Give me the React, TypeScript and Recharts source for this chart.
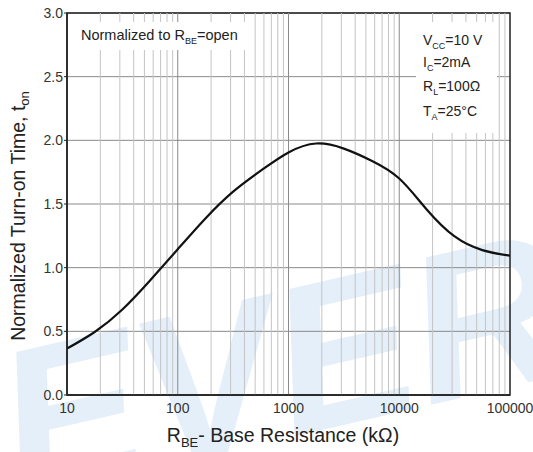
import {
  LineChart,
  Line,
  XAxis,
  YAxis,
  CartesianGrid,
  ReferenceLine,
  ReferenceArea,
} from "recharts";

const FONT = "'Liberation Sans', Arial, sans-serif";

// R_BE in kOhm (quarter-decade steps) and normalized t_on
const RBE_K = [
  10, 17.78, 31.62, 56.23, 100, 177.8, 316.2, 562.3, 1000, 1778, 3162, 5623,
  10000, 17783, 31623, 56234, 100000,
];
const TON_NORM = [
  0.365, 0.495, 0.672, 0.9, 1.145, 1.387, 1.597, 1.762, 1.905, 1.975, 1.935,
  1.84, 1.7, 1.455, 1.245, 1.138, 1.094,
];

const X_DECADES = [10, 100, 1000, 10000, 100000];
const X_MINORS = [
  20, 30, 40, 50, 60, 70, 80, 90, 200, 300, 400, 500, 600, 700, 800, 900, 2000,
  3000, 4000, 5000, 6000, 7000, 8000, 9000, 20000, 30000, 40000, 50000, 60000,
  70000, 80000, 90000,
];
const Y_TICKS = [0, 0.5, 1.0, 1.5, 2.0, 2.5, 3.0];

const data = RBE_K.map((r, i) => ({ r, t: TON_NORM[i] }));

const tickStyle = { fontSize: 14, fill: "#333", fontFamily: FONT };

export default function App() {
  return (
    <div
      style={{
        position: "absolute",
        left: 0,
        top: 0,
        width: 533,
        height: 452,
        background: "#fff",
        fontFamily: FONT,
        overflow: "hidden",
      }}
    >
      {/* watermark */}
      <svg
        width={533}
        height={452}
        style={{ position: "absolute", left: 0, top: 0 }}
      >
        <text
          x={18}
          y={500}
          transform="rotate(-13 18 500)"
          fontSize={210}
          fontWeight="bold"
          fontStyle="italic"
          fill="#e4eff9"
          fontFamily={FONT}
        >
          EVER
        </text>
      </svg>

      <LineChart
        width={533}
        height={452}
        data={data}
        margin={{ top: 13, right: 23, bottom: 0, left: 0 }}
        style={{ position: "absolute", left: 0, top: 0 }}
      >
        <CartesianGrid vertical={false} stroke="#8a8a8a" strokeWidth={1} />
        {X_MINORS.map((v) => (
          <ReferenceLine key={v} x={v} stroke="#c4c4c4" strokeWidth={1} />
        ))}
        {X_DECADES.slice(1, -1).map((v) => (
          <ReferenceLine key={v} x={v} stroke="#8a8a8a" strokeWidth={1} />
        ))}
        <XAxis
          dataKey="r"
          type="number"
          scale="log"
          domain={[10, 100000]}
          ticks={X_DECADES}
          allowDataOverflow
          height={57}
          tick={tickStyle}
          tickLine={false}
          tickMargin={2}
          axisLine={{ stroke: "#222", strokeWidth: 1.5 }}
        />
        <YAxis
          type="number"
          domain={[0, 3]}
          ticks={Y_TICKS}
          width={67}
          tick={tickStyle}
          tickFormatter={(v: number) => v.toFixed(1)}
          tickSize={3}
          tickMargin={1}
          tickLine={{ stroke: "#222" }}
          axisLine={{ stroke: "#222", strokeWidth: 1.5 }}
        />
        <ReferenceArea
          x1={10}
          x2={100000}
          y1={0}
          y2={3}
          fill="none"
          stroke="#222"
          strokeWidth={1.5}
        />
        <Line
          dataKey="t"
          type="natural"
          stroke="#111"
          strokeWidth={2.2}
          dot={false}
          isAnimationActive={false}
        />
      </LineChart>

      {/* annotations and axis titles */}
      <svg
        width={533}
        height={452}
        style={{ position: "absolute", left: 0, top: 0 }}
        fontFamily={FONT}
      >
        <rect x={73} y={22} width={172} height={28} fill="#fff" />
        <text x={81} y={40} fontSize={14.5} fill="#222">
          Normalized to R
          <tspan fontSize={9} dy={4}>BE</tspan>
          <tspan dy={-4}>=open</tspan>
        </text>

        <rect x={416} y={22} width={81} height={111} fill="#fff" />
        <g fontSize={14} fill="#222">
          <text x={423} y={45}>
            V<tspan fontSize={9} dy={4}>CC</tspan>
            <tspan dy={-4}>=10 V</tspan>
          </text>
          <text x={423} y={67}>
            I<tspan fontSize={9} dy={4}>C</tspan>
            <tspan dy={-4}>=2mA</tspan>
          </text>
          <text x={423} y={91}>
            R<tspan fontSize={9} dy={4}>L</tspan>
            <tspan dy={-4}>=100Ω</tspan>
          </text>
          <text x={423} y={116}>
            T<tspan fontSize={9} dy={4}>A</tspan>
            <tspan dy={-4}>=25°C</tspan>
          </text>
        </g>

        <text
          x={25}
          y={216}
          transform="rotate(-90 25 216)"
          textAnchor="middle"
          fontSize={19.5}
          fill="#222"
        >
          Normalized Turn-on Time, t
          <tspan fontSize={13} dy={4}>on</tspan>
        </text>

        <text x={283} y={442} textAnchor="middle" fontSize={19.5} fill="#222">
          R<tspan fontSize={13} dy={5}>BE</tspan>
          <tspan dy={-5}>- Base Resistance (kΩ)</tspan>
        </text>
      </svg>
    </div>
  );
}
